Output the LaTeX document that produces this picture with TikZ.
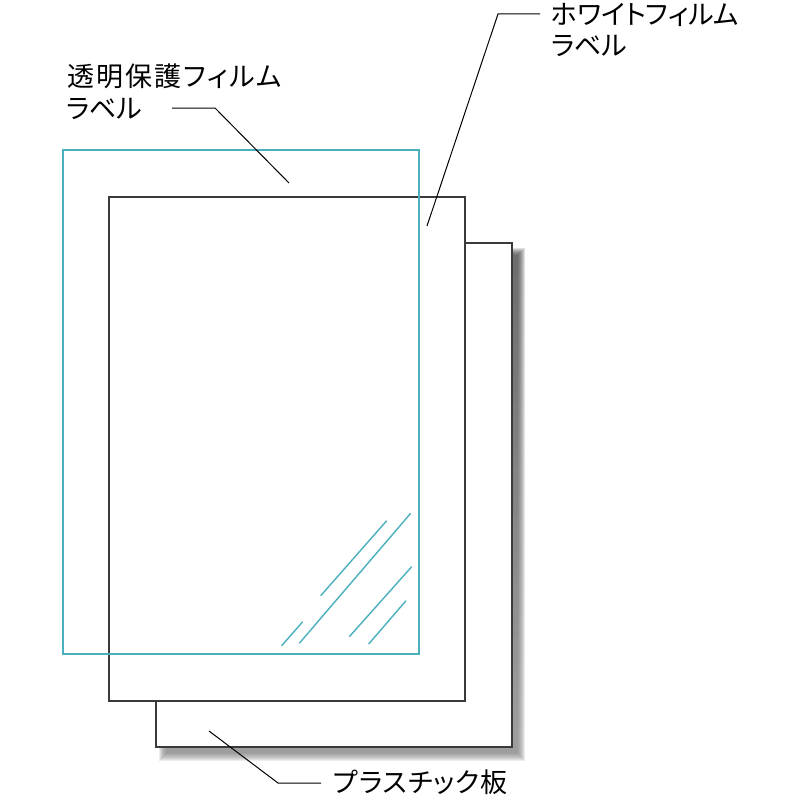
\documentclass[tikz,border=0pt]{standalone}
\usepackage{fontspec}
\newfontfamily\jp[RawFeature=+palt]{Noto Sans CJK JP}
\newfontfamily\jpa[RawFeature=+palt, LetterSpace=7.5]{Noto Sans CJK JP}
\newfontfamily\jpb[RawFeature=+palt, LetterSpace=3.5]{Noto Sans CJK JP}
\definecolor{edge}{HTML}{3A3A3A}
\definecolor{film}{HTML}{4AB0BE}
\definecolor{shade}{HTML}{7A775F}
\tikzset{
  board/.style={draw=edge, line width=1.8pt, fill=white},
  clear/.style={draw=film, line width=1.8pt},
  hatch/.style={draw=film, line width=1.4pt},
  leader/.style={draw=black, line width=1pt},
  lbl/.style={anchor=base west, inner sep=0pt, font=\jp\fontsize{27}{32}\selectfont}
}
\begin{document}
\begin{tikzpicture}[x=1pt,y=-1pt]
\useasboundingbox (0,0) rectangle (800,800);
% shadow of plastic board
\foreach \d in {0,1,...,7}{
  \fill[shade, opacity=0.085] (159+\d,248+\d) rectangle (525-\d,761-\d);
}
% plastic board
\node[board, minimum width=356pt, minimum height=504pt, inner sep=0pt, anchor=north west] (plastic) at (155,242) {};
% white film
\node[board, minimum width=356pt, minimum height=504pt, inner sep=0pt, anchor=north west] (white) at (108,196) {};
% clear film
\node[clear, minimum width=356pt, minimum height=504pt, inner sep=0pt, anchor=north west] (clear) at (62,149) {};
% hatch lines
\draw[hatch] (386.7,520.7) -- (320.7,595.7);
\draw[hatch] (410.7,513.3) -- (299.3,643.3);
\draw[hatch] (302.7,621.7) -- (281.7,645.7);
\draw[hatch] (411.7,566.7) -- (349.3,636.7);
\draw[hatch] (406,600.7) -- (368.7,644);
% labels
\node[lbl, font=\jpa\fontsize{27}{32}\selectfont] (l1a) at (67,86) {透明保護フィルム};
\node[lbl] (l1b) at (66,118) {ラベル};
\node[lbl] (l2a) at (551,25) {ホワイトフィルム};
\node[lbl] (l2b) at (551,56) {ラベル};
\node[lbl, font=\jpb\fontsize{27}{32}\selectfont] (l3) at (333,792) {プラスチック板};
% leader coordinates
\coordinate (p1s) at (172,108);
\coordinate (p1k) at (215,108);
\coordinate (p1e) at (289,183);
\coordinate (p2s) at (540,14);
\coordinate (p2k) at (498,14);
\coordinate (p2e) at (427,226);
\coordinate (p3s) at (321,783);
\coordinate (p3k) at (278,783);
\coordinate (p3e) at (209,731);
\draw[leader] (p1s) -- (p1k) -- (p1e);
\draw[leader] (p2s) -- (p2k) -- (p2e);
\draw[leader] (p3s) -- (p3k) -- (p3e);
\end{tikzpicture}
\end{document}
